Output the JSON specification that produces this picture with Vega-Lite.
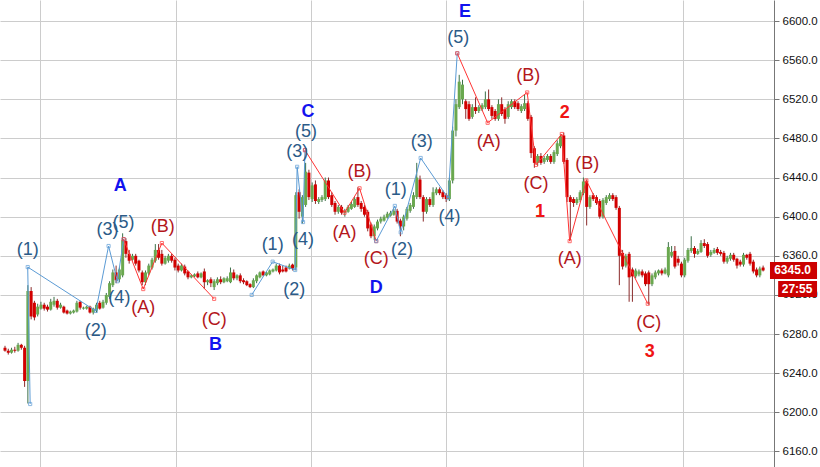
{
"$schema": "https://vega.github.io/schema/vega-lite/v6.json",
"width": 774,
"height": 467,
"autosize": {"type": "none"},
"padding": {"left": 0, "top": 0, "right": 46, "bottom": 0},
"background": "white",
"config": {"view": {"stroke": null}, "font": "Liberation Sans"},
"datasets": {
"candles": [
{"t":0,"o":6266,"h":6268,"l":6262,"c":6263},{"t":1,"o":6263,"h":6265,"l":6259,"c":6261},{"t":2,"o":6261,"h":6266,"l":6260,"c":6264},{"t":3,"o":6264,"h":6267,"l":6261,"c":6263},{"t":4,"o":6263,"h":6271,"l":6262,"c":6269},{"t":5,"o":6269,"h":6270,"l":6264,"c":6266},{"t":6,"o":6266,"h":6268,"l":6226,"c":6232},{"t":7,"o":6232,"h":6330,"l":6209,"c":6324},{"t":8,"o":6324,"h":6328,"l":6295,"c":6298},{"t":9,"o":6312,"h":6314,"l":6294,"c":6297},
{"t":10,"o":6300,"h":6311,"l":6298,"c":6308},{"t":11,"o":6306,"h":6313,"l":6305,"c":6310},{"t":12,"o":6310,"h":6312,"l":6304,"c":6306},{"t":13,"o":6308,"h":6310,"l":6303,"c":6305},{"t":14,"o":6305,"h":6316,"l":6304,"c":6313},{"t":15,"o":6310,"h":6318,"l":6308,"c":6314},{"t":16,"o":6314,"h":6316,"l":6305,"c":6307},{"t":17,"o":6307,"h":6312,"l":6306,"c":6310},{"t":18,"o":6308,"h":6309,"l":6301,"c":6302},{"t":19,"o":6304,"h":6305,"l":6300,"c":6301},
{"t":20,"o":6301,"h":6304,"l":6300,"c":6303},{"t":21,"o":6302,"h":6305,"l":6301,"c":6304},{"t":22,"o":6303,"h":6314,"l":6302,"c":6312},{"t":23,"o":6313,"h":6314,"l":6305,"c":6307},{"t":24,"o":6306,"h":6308,"l":6305,"c":6307},{"t":25,"o":6306,"h":6309,"l":6305,"c":6308},{"t":26,"o":6308,"h":6309,"l":6301,"c":6302},{"t":27,"o":6302,"h":6307,"l":6300,"c":6306},{"t":28,"o":6304,"h":6312,"l":6302,"c":6310},{"t":29,"o":6312,"h":6314,"l":6305,"c":6306},
{"t":30,"o":6307,"h":6315,"l":6306,"c":6313},{"t":31,"o":6312,"h":6322,"l":6310,"c":6320},{"t":32,"o":6318,"h":6334,"l":6316,"c":6332},{"t":33,"o":6330,"h":6346,"l":6328,"c":6343},{"t":34,"o":6343,"h":6350,"l":6332,"c":6335},{"t":35,"o":6336,"h":6348,"l":6333,"c":6346},{"t":36,"o":6340,"h":6383,"l":6338,"c":6376},{"t":37,"o":6375,"h":6378,"l":6358,"c":6362},{"t":38,"o":6362,"h":6366,"l":6352,"c":6355},{"t":39,"o":6356,"h":6362,"l":6355,"c":6360},
{"t":40,"o":6360,"h":6362,"l":6350,"c":6352},{"t":41,"o":6355,"h":6356,"l":6343,"c":6345},{"t":42,"o":6343,"h":6345,"l":6330,"c":6333},{"t":43,"o":6333,"h":6345,"l":6330,"c":6343},{"t":44,"o":6342,"h":6352,"l":6340,"c":6350},{"t":45,"o":6348,"h":6358,"l":6346,"c":6356},{"t":46,"o":6355,"h":6372,"l":6353,"c":6366},{"t":47,"o":6366,"h":6372,"l":6356,"c":6358},{"t":48,"o":6362,"h":6366,"l":6350,"c":6352},{"t":49,"o":6352,"h":6360,"l":6351,"c":6358},
{"t":50,"o":6355,"h":6362,"l":6353,"c":6360},{"t":51,"o":6360,"h":6362,"l":6353,"c":6355},{"t":52,"o":6356,"h":6358,"l":6345,"c":6348},{"t":53,"o":6350,"h":6352,"l":6343,"c":6345},{"t":54,"o":6345,"h":6352,"l":6344,"c":6350},{"t":55,"o":6349,"h":6351,"l":6340,"c":6342},{"t":56,"o":6344,"h":6345,"l":6336,"c":6338},{"t":57,"o":6338,"h":6341,"l":6337,"c":6340},{"t":58,"o":6339,"h":6342,"l":6338,"c":6341},{"t":59,"o":6342,"h":6344,"l":6337,"c":6338},
{"t":60,"o":6338,"h":6343,"l":6337,"c":6342},{"t":61,"o":6344,"h":6347,"l":6326,"c":6333},{"t":62,"o":6333,"h":6336,"l":6330,"c":6335},{"t":63,"o":6336,"h":6338,"l":6328,"c":6332},{"t":64,"o":6328,"h":6336,"l":6325,"c":6334},{"t":65,"o":6332,"h":6338,"l":6330,"c":6336},{"t":66,"o":6336,"h":6339,"l":6331,"c":6333},{"t":67,"o":6333,"h":6338,"l":6332,"c":6337},{"t":68,"o":6334,"h":6339,"l":6333,"c":6337},{"t":69,"o":6333,"h":6348,"l":6332,"c":6343},
{"t":70,"o":6343,"h":6346,"l":6335,"c":6337},{"t":71,"o":6337,"h":6341,"l":6335,"c":6340},{"t":72,"o":6340,"h":6342,"l":6332,"c":6334},{"t":73,"o":6335,"h":6337,"l":6331,"c":6333},{"t":74,"o":6334,"h":6335,"l":6329,"c":6330},{"t":75,"o":6331,"h":6332,"l":6327,"c":6328},{"t":76,"o":6328,"h":6337,"l":6327,"c":6335},{"t":77,"o":6334,"h":6341,"l":6332,"c":6340},{"t":78,"o":6338,"h":6344,"l":6337,"c":6343},{"t":79,"o":6344,"h":6345,"l":6339,"c":6340},
{"t":80,"o":6340,"h":6344,"l":6339,"c":6343},{"t":81,"o":6341,"h":6346,"l":6340,"c":6345},{"t":82,"o":6344,"h":6347,"l":6343,"c":6346},{"t":83,"o":6345,"h":6352,"l":6344,"c":6350},{"t":84,"o":6350,"h":6352,"l":6341,"c":6343},{"t":85,"o":6346,"h":6350,"l":6343,"c":6344},{"t":86,"o":6348,"h":6350,"l":6343,"c":6344},{"t":87,"o":6347,"h":6352,"l":6346,"c":6350},{"t":88,"o":6351,"h":6352,"l":6345,"c":6347},{"t":89,"o":6348,"h":6425,"l":6345,"c":6422},
{"t":90,"o":6425,"h":6428,"l":6398,"c":6405},{"t":91,"o":6400,"h":6422,"l":6393,"c":6420},{"t":92,"o":6412,"h":6455,"l":6410,"c":6446},{"t":93,"o":6445,"h":6448,"l":6417,"c":6420},{"t":94,"o":6418,"h":6435,"l":6415,"c":6432},{"t":95,"o":6433,"h":6437,"l":6413,"c":6416},{"t":96,"o":6415,"h":6420,"l":6413,"c":6418},{"t":97,"o":6417,"h":6422,"l":6415,"c":6420},{"t":98,"o":6418,"h":6440,"l":6416,"c":6437},{"t":99,"o":6437,"h":6440,"l":6418,"c":6420},
{"t":100,"o":6422,"h":6425,"l":6410,"c":6412},{"t":101,"o":6414,"h":6416,"l":6402,"c":6405},{"t":102,"o":6405,"h":6412,"l":6403,"c":6410},{"t":103,"o":6410,"h":6412,"l":6402,"c":6404},{"t":104,"o":6404,"h":6408,"l":6400,"c":6406},{"t":105,"o":6405,"h":6412,"l":6404,"c":6410},{"t":106,"o":6408,"h":6415,"l":6407,"c":6413},{"t":107,"o":6410,"h":6420,"l":6409,"c":6418},{"t":108,"o":6420,"h":6430,"l":6410,"c":6412},{"t":109,"o":6414,"h":6416,"l":6405,"c":6408},
{"t":110,"o":6410,"h":6412,"l":6400,"c":6402},{"t":111,"o":6405,"h":6407,"l":6385,"c":6388},{"t":112,"o":6392,"h":6394,"l":6378,"c":6380},{"t":113,"o":6380,"h":6392,"l":6376,"c":6390},{"t":114,"o":6388,"h":6397,"l":6386,"c":6395},{"t":115,"o":6395,"h":6400,"l":6393,"c":6398},{"t":116,"o":6396,"h":6402,"l":6395,"c":6400},{"t":117,"o":6399,"h":6405,"l":6398,"c":6403},{"t":118,"o":6401,"h":6406,"l":6400,"c":6404},{"t":119,"o":6402,"h":6408,"l":6401,"c":6406},
{"t":120,"o":6406,"h":6408,"l":6393,"c":6395},{"t":121,"o":6396,"h":6398,"l":6380,"c":6390},{"t":122,"o":6390,"h":6402,"l":6386,"c":6400},{"t":123,"o":6398,"h":6410,"l":6396,"c":6408},{"t":124,"o":6406,"h":6414,"l":6404,"c":6412},{"t":125,"o":6410,"h":6425,"l":6408,"c":6422},{"t":126,"o":6420,"h":6455,"l":6418,"c":6440},{"t":127,"o":6438,"h":6442,"l":6418,"c":6420},{"t":128,"o":6420,"h":6422,"l":6395,"c":6405},{"t":129,"o":6405,"h":6420,"l":6403,"c":6418},
{"t":130,"o":6418,"h":6420,"l":6410,"c":6412},{"t":131,"o":6412,"h":6430,"l":6410,"c":6425},{"t":132,"o":6424,"h":6430,"l":6422,"c":6428},{"t":133,"o":6428,"h":6430,"l":6422,"c":6424},{"t":134,"o":6425,"h":6427,"l":6418,"c":6420},{"t":135,"o":6422,"h":6424,"l":6415,"c":6418},{"t":136,"o":6418,"h":6440,"l":6416,"c":6437},{"t":137,"o":6437,"h":6492,"l":6434,"c":6488},{"t":138,"o":6488,"h":6520,"l":6482,"c":6515},{"t":139,"o":6512,"h":6545,"l":6510,"c":6538},
{"t":140,"o":6520,"h":6540,"l":6515,"c":6535},{"t":141,"o":6518,"h":6520,"l":6500,"c":6510},{"t":142,"o":6515,"h":6518,"l":6498,"c":6500},{"t":143,"o":6502,"h":6515,"l":6500,"c":6512},{"t":144,"o":6512,"h":6522,"l":6505,"c":6508},{"t":145,"o":6508,"h":6514,"l":6506,"c":6512},{"t":146,"o":6510,"h":6516,"l":6508,"c":6514},{"t":147,"o":6512,"h":6528,"l":6510,"c":6520},{"t":148,"o":6520,"h":6530,"l":6508,"c":6510},{"t":149,"o":6512,"h":6514,"l":6500,"c":6503},
{"t":150,"o":6508,"h":6510,"l":6498,"c":6500},{"t":151,"o":6500,"h":6520,"l":6498,"c":6515},{"t":152,"o":6515,"h":6522,"l":6503,"c":6505},{"t":153,"o":6510,"h":6512,"l":6495,"c":6500},{"t":154,"o":6502,"h":6518,"l":6500,"c":6515},{"t":155,"o":6512,"h":6520,"l":6510,"c":6518},{"t":156,"o":6518,"h":6520,"l":6510,"c":6512},{"t":157,"o":6516,"h":6518,"l":6508,"c":6510},{"t":158,"o":6508,"h":6515,"l":6506,"c":6513},{"t":159,"o":6510,"h":6525,"l":6508,"c":6516},
{"t":160,"o":6516,"h":6518,"l":6498,"c":6500},{"t":161,"o":6502,"h":6504,"l":6460,"c":6465},{"t":162,"o":6470,"h":6472,"l":6450,"c":6455},{"t":163,"o":6455,"h":6464,"l":6452,"c":6462},{"t":164,"o":6462,"h":6465,"l":6453,"c":6455},{"t":165,"o":6456,"h":6462,"l":6454,"c":6460},{"t":166,"o":6458,"h":6464,"l":6456,"c":6462},{"t":167,"o":6462,"h":6464,"l":6454,"c":6456},{"t":168,"o":6456,"h":6468,"l":6454,"c":6466},{"t":169,"o":6464,"h":6478,"l":6462,"c":6475},
{"t":170,"o":6472,"h":6484,"l":6470,"c":6482},{"t":171,"o":6483,"h":6486,"l":6454,"c":6456},{"t":172,"o":6458,"h":6460,"l":6415,"c":6420},{"t":173,"o":6420,"h":6422,"l":6376,"c":6415},{"t":174,"o":6418,"h":6420,"l":6410,"c":6414},{"t":175,"o":6414,"h":6420,"l":6412,"c":6418},{"t":176,"o":6417,"h":6427,"l":6415,"c":6425},{"t":177,"o":6424,"h":6440,"l":6422,"c":6436},{"t":178,"o":6436,"h":6438,"l":6391,"c":6410},{"t":179,"o":6410,"h":6422,"l":6408,"c":6420},
{"t":180,"o":6422,"h":6424,"l":6416,"c":6418},{"t":181,"o":6420,"h":6422,"l":6412,"c":6414},{"t":182,"o":6416,"h":6418,"l":6398,"c":6400},{"t":183,"o":6400,"h":6419,"l":6398,"c":6417},{"t":184,"o":6414,"h":6422,"l":6412,"c":6420},{"t":185,"o":6418,"h":6424,"l":6416,"c":6422},{"t":186,"o":6422,"h":6424,"l":6416,"c":6418},{"t":187,"o":6420,"h":6422,"l":6407,"c":6409},{"t":188,"o":6409,"h":6411,"l":6330,"c":6360},{"t":189,"o":6363,"h":6366,"l":6346,"c":6349},
{"t":190,"o":6350,"h":6362,"l":6348,"c":6360},{"t":191,"o":6362,"h":6364,"l":6313,"c":6338},{"t":192,"o":6346,"h":6348,"l":6313,"c":6339},{"t":193,"o":6339,"h":6347,"l":6337,"c":6345},{"t":194,"o":6341,"h":6346,"l":6339,"c":6344},{"t":195,"o":6344,"h":6346,"l":6338,"c":6340},{"t":196,"o":6342,"h":6344,"l":6329,"c":6331},{"t":197,"o":6343,"h":6345,"l":6310,"c":6331},{"t":198,"o":6331,"h":6342,"l":6329,"c":6340},{"t":199,"o":6338,"h":6345,"l":6336,"c":6343},
{"t":200,"o":6342,"h":6346,"l":6340,"c":6345},{"t":201,"o":6345,"h":6347,"l":6340,"c":6342},{"t":202,"o":6342,"h":6348,"l":6341,"c":6346},{"t":203,"o":6340,"h":6374,"l":6338,"c":6369},{"t":204,"o":6360,"h":6370,"l":6358,"c":6364},{"t":205,"o":6365,"h":6370,"l":6347,"c":6349},{"t":206,"o":6357,"h":6360,"l":6350,"c":6353},{"t":207,"o":6352,"h":6354,"l":6338,"c":6340},{"t":208,"o":6340,"h":6358,"l":6338,"c":6356},{"t":209,"o":6355,"h":6368,"l":6353,"c":6366},
{"t":210,"o":6365,"h":6380,"l":6363,"c":6368},{"t":211,"o":6368,"h":6370,"l":6358,"c":6362},{"t":212,"o":6362,"h":6367,"l":6361,"c":6365},{"t":213,"o":6364,"h":6376,"l":6363,"c":6373},{"t":214,"o":6373,"h":6377,"l":6368,"c":6370},{"t":215,"o":6372,"h":6374,"l":6358,"c":6360},{"t":216,"o":6361,"h":6366,"l":6359,"c":6364},{"t":217,"o":6363,"h":6368,"l":6362,"c":6366},{"t":218,"o":6367,"h":6369,"l":6361,"c":6363},{"t":219,"o":6364,"h":6366,"l":6360,"c":6362},
{"t":220,"o":6363,"h":6365,"l":6352,"c":6354},{"t":221,"o":6354,"h":6360,"l":6352,"c":6358},{"t":222,"o":6357,"h":6363,"l":6355,"c":6361},{"t":223,"o":6361,"h":6363,"l":6354,"c":6356},{"t":224,"o":6357,"h":6358,"l":6347,"c":6350},{"t":225,"o":6354,"h":6356,"l":6349,"c":6351},{"t":226,"o":6351,"h":6363,"l":6349,"c":6361},{"t":227,"o":6361,"h":6362,"l":6356,"c":6358},{"t":228,"o":6362,"h":6364,"l":6350,"c":6352},{"t":229,"o":6354,"h":6356,"l":6342,"c":6344},
{"t":230,"o":6346,"h":6348,"l":6338,"c":6340},{"t":231,"o":6340,"h":6349,"l":6338,"c":6347},{"t":232,"o":6348,"h":6350,"l":6344,"c":6345}
],
"waves": [
{"seg":"b1","k":"b","ord":0,"t":7.7,"v":6208.5},{"seg":"b1","k":"b","ord":1,"t":6.95,"v":6348.5},{"seg":"b1","k":"b","ord":2,"t":27.8,"v":6303.6},{"seg":"b1","k":"b","ord":3,"t":31.7,"v":6370},{"seg":"b1","k":"b","ord":4,"t":34.4,"v":6334},{"seg":"b1","k":"b","ord":5,"t":36.3,"v":6377},
{"seg":"r1","k":"r","ord":0,"t":36.3,"v":6377},{"seg":"r1","k":"r","ord":1,"t":42.3,"v":6326},{"seg":"r1","k":"r","ord":2,"t":48.0,"v":6373},{"seg":"r1","k":"r","ord":3,"t":64.0,"v":6316},
{"seg":"b2","k":"b","ord":0,"t":75.5,"v":6320},{"seg":"b2","k":"b","ord":1,"t":81.9,"v":6354},{"seg":"b2","k":"b","ord":2,"t":88.8,"v":6345.5},{"seg":"b2","k":"b","ord":3,"t":89.4,"v":6451},{"seg":"b2","k":"b","ord":4,"t":91.2,"v":6394.5},{"seg":"b2","k":"b","ord":5,"t":91.8,"v":6468},
{"seg":"r2","k":"r","ord":0,"t":91.8,"v":6468},{"seg":"r2","k":"r","ord":1,"t":103.9,"v":6404},{"seg":"r2","k":"r","ord":2,"t":108.5,"v":6429},{"seg":"r2","k":"r","ord":3,"t":113.6,"v":6375},
{"seg":"b3","k":"b","ord":0,"t":113.6,"v":6375},{"seg":"b3","k":"b","ord":1,"t":119.3,"v":6411},{"seg":"b3","k":"b","ord":2,"t":121.1,"v":6384},{"seg":"b3","k":"b","ord":3,"t":127.2,"v":6460},{"seg":"b3","k":"b","ord":4,"t":135.6,"v":6419},{"seg":"b3","k":"b","ord":5,"t":138.4,"v":6567},
{"seg":"r3","k":"r","ord":0,"t":138.4,"v":6567},{"seg":"r3","k":"r","ord":1,"t":147.7,"v":6496},{"seg":"r3","k":"r","ord":2,"t":159.8,"v":6527},{"seg":"r3","k":"r","ord":3,"t":162.5,"v":6453},{"seg":"r3","k":"r","ord":4,"t":170.4,"v":6484.5},{"seg":"r3","k":"r","ord":5,"t":172.8,"v":6375},{"seg":"r3","k":"r","ord":6,"t":177.9,"v":6437},{"seg":"r3","k":"r","ord":7,"t":196.7,"v":6311}
],
"labels": [
{"t":6.95,"v":6366,"txt":"(1)","k":"b"},{"t":27.8,"v":6283,"txt":"(2)","k":"b"},{"t":31.4,"v":6386,"txt":"(3)","k":"b"},{"t":35.0,"v":6317,"txt":"(4)","k":"b"},{"t":36.3,"v":6394,"txt":"(5)","k":"b"},
{"t":42.3,"v":6307,"txt":"(A)","k":"r"},{"t":48.3,"v":6389,"txt":"(B)","k":"r"},{"t":64.0,"v":6294,"txt":"(C)","k":"r"},
{"t":81.9,"v":6371,"txt":"(1)","k":"b"},{"t":88.5,"v":6325,"txt":"(2)","k":"b"},{"t":89.4,"v":6466,"txt":"(3)","k":"b"},{"t":91.2,"v":6376,"txt":"(4)","k":"b"},{"t":92.1,"v":6487,"txt":"(5)","k":"b"},
{"t":103.9,"v":6383,"txt":"(A)","k":"r"},{"t":108.5,"v":6446,"txt":"(B)","k":"r"},{"t":113.6,"v":6357,"txt":"(C)","k":"r"},
{"t":119.6,"v":6427,"txt":"(1)","k":"b"},{"t":121.5,"v":6366,"txt":"(2)","k":"b"},{"t":127.5,"v":6476,"txt":"(3)","k":"b"},{"t":136.0,"v":6400,"txt":"(4)","k":"b"},{"t":138.7,"v":6583,"txt":"(5)","k":"b"},
{"t":148.0,"v":6476,"txt":"(A)","k":"r"},{"t":160.1,"v":6544,"txt":"(B)","k":"r"},{"t":162.5,"v":6433,"txt":"(C)","k":"r"},
{"t":172.8,"v":6357,"txt":"(A)","k":"r"},{"t":178.2,"v":6454,"txt":"(B)","k":"r"},{"t":197.0,"v":6291,"txt":"(C)","k":"r"}
],
"big": [
{"t":35.3,"v":6431,"txt":"A","k":"b"},{"t":64.4,"v":6269,"txt":"B","k":"b"},{"t":92.7,"v":6507,"txt":"C","k":"b"},{"t":113.6,"v":6327,"txt":"D","k":"b"},{"t":140.8,"v":6609,"txt":"E","k":"b"},
{"t":163.7,"v":6405,"txt":"1","k":"r"},{"t":171.3,"v":6506,"txt":"2","k":"r"},{"t":197.3,"v":6262,"txt":"3","k":"r"}
],
"tags": [
{"t1":234.1,"t2":248.5,"v1":6336.3,"v2":6353.7,"tx":241.0,"tv":6345,"txt":"6345.0"},
{"t1":236.6,"t2":248.5,"v1":6317.9,"v2":6334.2,"tx":242.4,"tv":6326,"txt":"27:55"}
]
},
"layer": [
{
"data": {"name": "candles"},
"mark": {"type": "rule", "strokeWidth": 1},
"encoding": {
"x": {"field": "t", "type": "quantitative", "scale": {"domain": [0, 233.8], "nice": false, "zero": false},
"axis": {"orient": "bottom", "values": [10.57, 52.27, 93.66, 135.05, 176.74, 207.55], "labels": false, "ticks": false, "domain": false, "grid": true, "gridColor": "#cccccc", "gridWidth": 1, "title": null}},
"y": {"field": "l", "type": "quantitative", "scale": {"domain": [6144.1, 6621.5], "nice": false, "zero": false},
"axis": {"orient": "right", "values": [6160,6200,6240,6280,6320,6360,6400,6440,6480,6520,6560,6600], "format": ".1f", "grid": true, "gridColor": "#cccccc", "gridWidth": 1, "domain": true, "domainColor": "#777777", "tickColor": "#777777", "tickSize": 5, "labelColor": "#111111", "labelFontSize": 11.5, "labelFont": "Liberation Sans", "labelPadding": 3, "title": null}},
"y2": {"field": "h"},
"color": {"condition": {"test": "datum.c >= datum.o", "value": "#3b7048"}, "value": "#8a2a2a"}
}
},
{
"data": {"name": "candles"},
"mark": {"type": "bar", "width": 3},
"encoding": {
"x": {"field": "t", "type": "quantitative"},
"y": {"field": "o", "type": "quantitative"},
"y2": {"field": "c"},
"color": {"condition": {"test": "datum.c >= datum.o", "value": "#6aa84f"}, "value": "#d20000"}
}
},
{
"mark": {"type": "rule", "color": "#cc0000", "strokeWidth": 1, "strokeDash": [2, 2]},
"encoding": {"y": {"datum": 6345}}
},
{
"data": {"name": "waves"},
"mark": {"type": "line", "strokeWidth": 1},
"encoding": {
"x": {"field": "t", "type": "quantitative"},
"y": {"field": "v", "type": "quantitative"},
"detail": {"field": "seg"},
"order": {"field": "ord"},
"color": {"field": "k", "type": "nominal", "scale": {"domain": ["b", "r"], "range": ["#5b9bd5", "#ff3333"]}, "legend": null}
}
},
{
"data": {"name": "waves"},
"mark": {"type": "point", "shape": "square", "size": 10, "filled": false, "strokeWidth": 1},
"encoding": {
"x": {"field": "t", "type": "quantitative"},
"y": {"field": "v", "type": "quantitative"},
"color": {"field": "k", "type": "nominal", "scale": {"domain": ["b", "r"], "range": ["#5b9bd5", "#ff3333"]}, "legend": null}
}
},
{
"data": {"name": "labels"},
"mark": {"type": "text", "fontSize": 18, "font": "Liberation Sans", "align": "center", "baseline": "middle"},
"encoding": {
"x": {"field": "t", "type": "quantitative"},
"y": {"field": "v", "type": "quantitative"},
"text": {"field": "txt"},
"color": {"condition": {"test": "datum.k === 'b'", "value": "#2b5b88"}, "value": "#b3161b"}
}
},
{
"data": {"name": "big"},
"mark": {"type": "text", "fontSize": 18, "fontWeight": "bold", "font": "Liberation Sans", "align": "center", "baseline": "middle"},
"encoding": {
"x": {"field": "t", "type": "quantitative"},
"y": {"field": "v", "type": "quantitative"},
"text": {"field": "txt"},
"color": {"condition": {"test": "datum.k === 'b'", "value": "#1212ee"}, "value": "#f01414"}
}
},
{
"data": {"name": "tags"},
"mark": {"type": "rect", "color": "#cc0000"},
"encoding": {
"x": {"field": "t1", "type": "quantitative"},
"x2": {"field": "t2"},
"y": {"field": "v1", "type": "quantitative"},
"y2": {"field": "v2"}
}
},
{
"data": {"name": "tags"},
"mark": {"type": "text", "color": "white", "fontSize": 12, "fontWeight": "bold", "font": "Liberation Sans", "align": "center", "baseline": "middle"},
"encoding": {
"x": {"field": "tx", "type": "quantitative"},
"y": {"field": "tv", "type": "quantitative"},
"text": {"field": "txt"}
}
}
]
}
